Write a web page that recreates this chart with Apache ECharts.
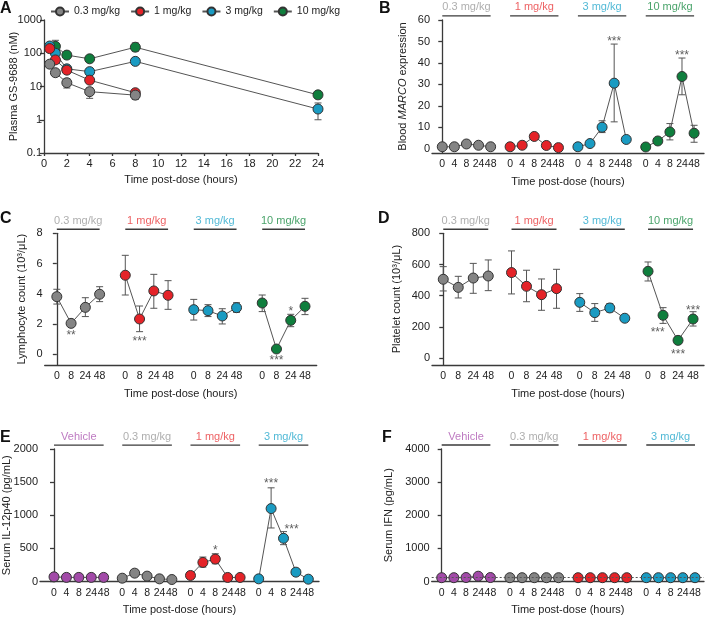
<!DOCTYPE html>
<html>
<head>
<meta charset="utf-8">
<script src="https://cdn.jsdelivr.net/npm/echarts@6/dist/echarts.min.js"></script>
<style>
  html, body { margin: 0; background: #fff; }
  #main { width: 709px; height: 618px; }
</style>
</head>
<body>
<div id="main"></div>
<script>
// ---- data ----
const doseNames = ['0.3 mg/kg', '1 mg/kg', '3 mg/kg', '10 mg/kg'];
const cytoNames = ['Vehicle', '0.3 mg/kg', '1 mg/kg', '3 mg/kg'];

// A: plasma PK (nM), log scale
const pkTimes = [0.5, 1, 2, 4, 8, 24];
const pk03 = [47, 26, 13, 7, 5.5, null];
const pk1 = [138, 63, 31, 15.5, 6.5, null];
const pk3 = [165, 100, 34, 28, 57, 2.1];
const pk10 = [150, 162, 88, 68, 152, 5.6];
const pk03Err = [null, null, [9, 17], [4.4, 9.1], [4.1, 6.8], null];
const pk1Err = [null, null, null, null, [5.6, 7.4], null];
const pk3Err = [[140, 195], null, null, null, [46, 71], [1.0, 3.2]];
const pk10Err = [[120, 200], [110, 245], null, null, [115, 204], null];

// B: blood MARCO expression
const timesB = ['0', '4', '8', '24', '48'];
const marco03 = [1.0, 1.0, 2.3, 1.7, 1.0];
const marco1 = [1.0, 1.7, 5.8, 1.6, 0.6];
const marco3 = [1.0, 2.5, 10.1, 30.6, 4.4];
const marco10 = [0.9, 3.7, 7.9, 33.7, 7.3];
const marco3Err = [null, null, [7.6, 13.1], [12.6, 48.8], null];
const marco10Err = [null, null, [4.2, 11.8], [25.2, 42.3], [3.1, 11.0]];
const starsB = [[2, 3, 51.5, '***'], [3, 3, 44.6, '***']];

// C: lymphocyte count
const timesC = ['0', '8', '24', '48'];
const lymph03 = [3.80, 2.03, 3.09, 3.96];
const lymph1 = [5.22, 2.32, 4.18, 3.89];
const lymph3 = [2.94, 2.87, 2.52, 3.07];
const lymph10 = [3.38, 0.33, 2.23, 3.16];
const lymph03Err = [[3.31, 4.29], null, [2.48, 3.73], [3.47, 4.46]];
const lymph1Err = [[3.91, 6.54], [1.48, 3.18], [3.03, 5.28], [2.96, 4.86]];
const lymph3Err = [[2.25, 3.62], [2.48, 3.27], [1.99, 3.0], [2.76, 3.40]];
const lymph10Err = [[2.81, 3.91], null, [1.81, 2.63], [2.61, 3.69]];
const starsC = [[0, 1, 1.41, '**'], [1, 1, 1.04, '***'], [3, 1, -0.22, '***'], [3, 2, 3.03, '*']];

// D: platelet count
const timesD = ['0', '8', '24', '48'];
const plt03 = [505, 453, 513, 526];
const plt1 = [548, 460, 406, 445];
const plt3 = [357, 291, 321, 255];
const plt10 = [556, 274, 113, 250];
const plt03Err = [[430, 586], [385, 524], [415, 607], [432, 629]];
const plt1Err = [[411, 687], [361, 563], [306, 507], [319, 569]];
const plt3Err = [[299, 413], [235, 349], [295, 349], null];
const plt10Err = [[494, 616], [222, 323], [94, 137], [205, 297]];
const starsD = [[3, 1, 180, '***', -0.36], [3, 2, 41, '***'], [3, 3, 325, '***']];

// E: serum IL-12p40
const timesE = ['0', '4', '8', '24', '48'];
const il12Veh = [70, 62, 62, 62, 62];
const il1203 = [50, 126, 81, 40, 30];
const il121 = [91, 288, 338, 61, 61];
const il123 = [40, 1101, 652, 141, 35];
const il121Err = [null, [217, 369], [268, 419], null, null];
const il123Err = [null, [808, 1414], [556, 753], null, null];
const starsE = [[2, 2, 505, '*'], [3, 1, 1515, '***'], [3, 2, 833, '***', 0.65]];

// F: serum IFN
const timesF = ['0', '4', '8', '24', '48'];
const ifnVeh = [115, 115, 120, 160, 120];
const ifn03 = [115, 115, 115, 115, 115];
const ifn1 = [115, 115, 115, 115, 115];
const ifn3 = [115, 115, 115, 115, 115];
const ifnLod = 120;

// ---- styling ----
const FONT = 'Liberation Sans, Arial, sans-serif';
const AXIS = '#3a3a3a';
const LINK = '#555';
const fill = { gray: '#848484', red: '#e42328', blue: '#1a9bc2', green: '#0f7e3d', purple: '#a24aa8' };
const txt = { gray: '#9a9a9a', red: '#e8383b', blue: '#25a7cc', green: '#1b8c45', purple: '#ad57b1' };

const grids = [
  { left: 44, top: 20, width: 274, height: 133 },
  { left: 432, top: 20, width: 272, height: 133 },
  { left: 44.7, top: 233.3, width: 272, height: 131.7 },
  { left: 432, top: 233.3, width: 272, height: 131.7 },
  { left: 39.3, top: 449, width: 279.7, height: 132.5 },
  { left: 431.7, top: 449, width: 272.3, height: 132.5 }
];

function errSeries(gi, data) {
  return {
    type: 'custom', xAxisIndex: gi, yAxisIndex: gi, z: 2, silent: true, clip: false,
    data: data,
    renderItem: function (params, api) {
      const x = api.value(0);
      const a = api.coord([x, api.value(1)]);
      const b = api.coord([x, api.value(2)]);
      const w = 3.5, st = { stroke: '#555', lineWidth: 1 };
      return {
        type: 'group', children: [
          { type: 'line', shape: { x1: a[0], y1: a[1], x2: b[0], y2: b[1] }, style: st },
          { type: 'line', shape: { x1: a[0] - w, y1: a[1], x2: a[0] + w, y2: a[1] }, style: st },
          { type: 'line', shape: { x1: b[0] - w, y1: b[1], x2: b[0] + w, y2: b[1] }, style: st }
        ]
      };
    }
  };
}

function pointLine(gi, name, data, color) {
  return {
    type: 'line', name: name, xAxisIndex: gi, yAxisIndex: gi, data: data, z: 3,
    symbol: 'circle', symbolSize: 10, connectNulls: false,
    itemStyle: { color: color, borderColor: '#333', borderWidth: 1 },
    lineStyle: { color: LINK, width: 1 },
    emphasis: { disabled: true }
  };
}

// grouped panels B-F
const panels = [
  { gi: 1, times: timesB, G: 5.61, xmin: -0.85, xmax: 21.65, barY: 61.9, stars: starsB,
    groups: [
      { label: doseNames[0], c: 'gray', vals: marco03 },
      { label: doseNames[1], c: 'red', vals: marco1 },
      { label: doseNames[2], c: 'blue', vals: marco3, err: marco3Err },
      { label: doseNames[3], c: 'green', vals: marco10, err: marco10Err }] },
  { gi: 2, times: timesC, G: 4.8, xmin: -0.85, xmax: 18.22, barY: 8.27, stars: starsC,
    groups: [
      { label: doseNames[0], c: 'gray', vals: lymph03, err: lymph03Err },
      { label: doseNames[1], c: 'red', vals: lymph1, err: lymph1Err },
      { label: doseNames[2], c: 'blue', vals: lymph3, err: lymph3Err },
      { label: doseNames[3], c: 'green', vals: lymph10, err: lymph10Err }] },
  { gi: 3, times: timesD, G: 4.55, xmin: -0.75, xmax: 17.38, barY: 826, stars: starsD,
    groups: [
      { label: doseNames[0], c: 'gray', vals: plt03, err: plt03Err },
      { label: doseNames[1], c: 'red', vals: plt1, err: plt1Err },
      { label: doseNames[2], c: 'blue', vals: plt3, err: plt3Err },
      { label: doseNames[3], c: 'green', vals: plt10, err: plt10Err }] },
  { gi: 4, times: timesE, G: 5.5, xmin: -1.13, xmax: 21.36, barY: 2060, stars: starsE,
    groups: [
      { label: cytoNames[0], c: 'purple', vals: il12Veh },
      { label: cytoNames[1], c: 'gray', vals: il1203 },
      { label: cytoNames[2], c: 'red', vals: il121, err: il121Err },
      { label: cytoNames[3], c: 'blue', vals: il123, err: il123Err }] },
  { gi: 5, times: timesF, G: 5.6, xmin: -0.82, xmax: 21.54, barY: 4121, stars: [], lod: ifnLod,
    groups: [
      { label: cytoNames[0], c: 'purple', vals: ifnVeh },
      { label: cytoNames[1], c: 'gray', vals: ifn03 },
      { label: cytoNames[2], c: 'red', vals: ifn1 },
      { label: cytoNames[3], c: 'blue', vals: ifn3 }] }
];

const series = [];

// panel A, drawn green first so grey sits on top
[[3, pk10, pk10Err, 'green'], [2, pk3, pk3Err, 'blue'], [1, pk1, pk1Err, 'red'], [0, pk03, pk03Err, 'gray']]
  .forEach(function (d) {
    series.push(errSeries(0, d[2].map(function (e, i) { return e ? [pkTimes[i], e[0], e[1]] : null; }).filter(Boolean)));
    series.push(pointLine(0, doseNames[d[0]], pkTimes.map(function (t, i) { return [t, d[1][i]]; }).filter(function (p) { return p[1] != null; }), fill[d[3]]));
  });

panels.forEach(function (p) {
  p.groups.forEach(function (g, k) {
    const xs = p.times.map(function (t, i) { return k * p.G + i; });
    if (g.err) {
      series.push(errSeries(p.gi, g.err.map(function (e, i) { return e ? [xs[i], e[0], e[1]] : null; }).filter(Boolean)));
    }
    const s = pointLine(p.gi, 'p' + p.gi + '-' + k, g.vals.map(function (v, i) { return [xs[i], v]; }), fill[g.c]);
    if (p.lod != null && k === 0) {
      s.markLine = {
        silent: true, symbol: 'none', label: { show: false },
        lineStyle: { type: [2, 2], color: '#555', width: 1 },
        data: [{ yAxis: p.lod }]
      };
    }
    series.push(s);
    const x0 = xs[0], x1 = xs[xs.length - 1];
    series.push({
      type: 'line', xAxisIndex: p.gi, yAxisIndex: p.gi, silent: true, clip: false, symbol: 'none',
      data: [[x0, p.barY], [x1, p.barY]], lineStyle: { color: AXIS, width: 1.3 }
    });
    series.push({
      type: 'scatter', xAxisIndex: p.gi, yAxisIndex: p.gi, silent: true, clip: false, symbolSize: 0,
      data: [[(x0 + x1) / 2, p.barY]],
      label: { show: true, position: 'top', distance: 3, formatter: g.label, color: txt[g.c], fontSize: 11, fontFamily: FONT }
    });
  });
  if (p.stars.length) {
    series.push({
      type: 'scatter', xAxisIndex: p.gi, yAxisIndex: p.gi, silent: true, clip: false, symbolSize: 0, z: 5,
      data: p.stars.map(function (s) {
        return { value: [s[0] * p.G + s[1] + (s[4] || 0), s[2]], label: { formatter: s[3] } };
      }),
      label: { show: true, position: 'inside', offset: [0, 3], color: '#333', fontSize: 12, fontFamily: FONT }
    });
  }
});

const labelStyle = { color: '#222', fontSize: 11, fontFamily: FONT };
const nameStyle = { color: '#222', fontSize: 11, fontFamily: FONT };
const lineStyle = { color: AXIS, width: 1.3 };
const plain = function (v) { return String(+(+v).toPrecision(6)); };

function yAxis(gi, min, max, ticks, name, gap, type) {
  const ax = {
    type: type || 'value', gridIndex: gi, min: min, max: max,
    name: name, nameLocation: 'middle', nameGap: gap, nameMoveOverlap: false, nameTextStyle: nameStyle,
    axisLine: { show: true, lineStyle: lineStyle },
    axisTick: { show: true, length: 4, lineStyle: lineStyle },
    axisLabel: Object.assign({ margin: 2, formatter: plain }, labelStyle),
    splitLine: { show: false }
  };
  if (ticks) { ax.axisTick.customValues = ticks; ax.axisLabel.customValues = ticks; }
  return ax;
}

function xGrouped(p) {
  const pos = [], lab = [];
  p.groups.forEach(function (g, k) {
    p.times.forEach(function (t, i) { pos.push(k * p.G + i); lab.push(t); });
  });
  return {
    type: 'value', gridIndex: p.gi, min: p.xmin, max: p.xmax,
    name: 'Time post-dose (hours)', nameLocation: 'middle', nameGap: 23, nameMoveOverlap: false, nameTextStyle: nameStyle,
    axisLine: { show: true, onZero: false, lineStyle: lineStyle },
    axisTick: { show: false },
    splitLine: { show: false },
    axisLabel: Object.assign({
      margin: 6, customValues: pos,
      formatter: function (v) {
        const i = pos.findIndex(function (q) { return Math.abs(q - v) < 1e-6; });
        return i < 0 ? '' : lab[i];
      }
    }, labelStyle, { fontSize: 10.5 })
  };
}

const xAxes = [{
  type: 'value', gridIndex: 0, min: 0, max: 24, interval: 2,
  name: 'Time post-dose (hours)', nameLocation: 'middle', nameGap: 21, nameMoveOverlap: false, nameTextStyle: nameStyle,
  axisLine: { show: true, onZero: false, lineStyle: lineStyle },
  axisTick: { show: true, length: 3, lineStyle: lineStyle },
  axisLabel: Object.assign({ margin: 5 }, labelStyle),
  splitLine: { show: false }
}].concat(panels.map(xGrouped));

const yAxes = [
  yAxis(0, 0.1, 1000, null, 'Plasma GS-9688 (nM)', 25, 'log'),
  yAxis(1, -1.9, 60, [0, 10, 20, 30, 40, 50, 60], '{n|Blood }{i|MARCO}{n| expression}', 24),
  yAxis(2, -0.73, 8, [0, 2, 4, 6, 8], 'Lymphocyte count (10³/μL)', 17),
  yAxis(3, -45, 800, [0, 200, 400, 600, 800], 'Platelet count (10³/μL)', 30),
  yAxis(4, 0, 2000, [0, 500, 1000, 1500, 2000], 'Serum IL-12p40 (pg/mL)', 28),
  yAxis(5, 0, 4000, [0, 1000, 2000, 3000, 4000], 'Serum IFN (pg/mL)', 37)
];
yAxes[0].logBase = 10;
yAxes[0].minorTick = { show: false };
yAxes[1].nameTextStyle = Object.assign({}, nameStyle, {
  rich: { n: { fontSize: 11, fontFamily: FONT, color: '#222' }, i: { fontSize: 11, fontFamily: FONT, color: '#222', fontStyle: 'italic' } }
});

const letters = [['A', 0, 1], ['B', 379, 1], ['C', 0, 211], ['D', 378, 211], ['E', 0, 430], ['F', 382, 430]];

const chart = echarts.init(document.getElementById('main'));
chart.setOption({
  animation: false,
  backgroundColor: '#fff',
  grid: grids,
  xAxis: xAxes,
  yAxis: yAxes,
  legend: {
    data: doseNames, left: 45, top: 1, itemWidth: 18, itemHeight: 10, itemGap: 10,
    textStyle: { color: '#222', fontSize: 10.5, fontFamily: FONT }
  },
  graphic: letters.map(function (l) {
    return { type: 'text', left: l[1], top: l[2], style: { text: l[0], fontSize: 16, fontWeight: 'bold', fontFamily: FONT, fill: '#111' } };
  }),
  series: series
});
</script>
</body>
</html>
